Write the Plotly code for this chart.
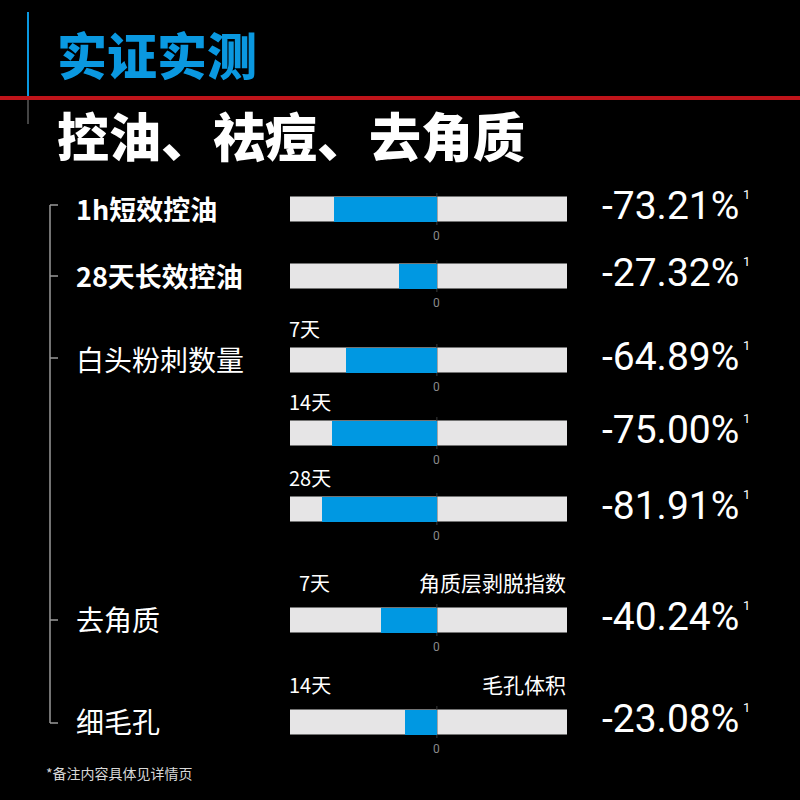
import plotly.graph_objects as go

# rows of the chart, top to bottom
row_labels = ["1h短效控油", "28天长效控油", "白头粉刺数量", "", "", "去角质", "细毛孔"]
row_bold = [True, True, False, False, False, False, False]
sub_left = ["", "", "7天", "14天", "28天", "7天", "14天"]
sub_right = ["", "", "", "", "", "角质层剥脱指数", "毛孔体积"]
values = [-73.21, -27.32, -64.89, -75.00, -81.91, -40.24, -23.08]
value_text = ["-73.21%", "-27.32%", "-64.89%", "-75.00%", "-81.91%", "-40.24%", "-23.08%"]

# vertical layout, in page pixels (y axis runs 0..800 top-down)
row_y = [209, 276, 360, 433, 509, 620, 722]

CJK = "Noto Sans CJK SC"
NUM = "Roboto"
BLUE = "#0a98e0"
BAR_BLUE = "#0098e2"
GRAY = "#e6e5e6"

fig = go.Figure()

fig.add_trace(go.Bar(
    x=values, y=row_y, orientation="h", width=25,
    marker=dict(color=BAR_BLUE, line=dict(width=0)),
    hoverinfo="skip", showlegend=False,
))

shapes = []
annotations = []

for i, yc in enumerate(row_y):
    # light gray track behind each bar
    shapes.append(dict(type="rect", xref="x domain", yref="y", x0=0, x1=1,
                       y0=yc - 12.5, y1=yc + 12.5, fillcolor=GRAY,
                       line=dict(width=0), layer="below"))
    # zero line
    shapes.append(dict(type="line", xref="x", yref="y", x0=0, x1=0,
                       y0=yc - 16, y1=yc + 16, line=dict(color="#3a3a3a", width=1),
                       layer="below"))
    annotations.append(dict(x=0, y=yc + 27, xref="x", yref="y", text="0",
                            showarrow=False, font=dict(family=NUM, size=12, color="#8a8a8a")))
    # percentage on the right, with the footnote mark
    annotations.append(dict(x=741 / 800, y=yc - 3, xref="paper", yref="y",
                            text=value_text[i], showarrow=False, xanchor="right",
                            font=dict(family=NUM, size=39, color="white")))
    annotations.append(dict(x=741 / 800, y=yc - 15, xref="paper", yref="y",
                            text="1", showarrow=False, xanchor="left",
                            font=dict(family=NUM, size=13, color="white")))
    if row_labels[i]:
        annotations.append(dict(x=74 / 800, y=yc - 1, xref="paper", yref="y",
                                text=row_labels[i], showarrow=False, xanchor="left",
                                font=dict(family=CJK, size=27 if row_bold[i] else 28,
                                          color="white",
                                          weight="bold" if row_bold[i] else "normal")))
    if sub_left[i]:
        off = 38 if sub_right[i] else 32
        xl = 297 if sub_left[i] == "7天" and sub_right[i] else 287
        annotations.append(dict(x=xl / 800, y=yc - off, xref="paper", yref="y",
                                text=sub_left[i], showarrow=False, xanchor="left",
                                font=dict(family=CJK, size=20, color="white")))
    if sub_right[i]:
        annotations.append(dict(x=568 / 800, y=yc - 38, xref="paper", yref="y",
                                text=sub_right[i], showarrow=False, xanchor="right",
                                font=dict(family=CJK, size=21, color="white")))

# bracket on the left
bracket_ticks = [row_y[0] - 4, row_y[1], 358, row_y[5], row_y[6] + 1]
shapes.append(dict(type="line", xref="paper", yref="y", x0=50 / 800, x1=50 / 800,
                   y0=bracket_ticks[0], y1=bracket_ticks[-1],
                   line=dict(color="#9a9a9a", width=1.5)))
for ty in bracket_ticks:
    shapes.append(dict(type="line", xref="paper", yref="y", x0=50 / 800, x1=58 / 800,
                       y0=ty, y1=ty, line=dict(color="#9a9a9a", width=1.5)))

# header decoration
shapes.append(dict(type="line", xref="paper", yref="y", x0=28 / 800, x1=28 / 800,
                   y0=12, y1=96, line=dict(color=BLUE, width=2)))
shapes.append(dict(type="line", xref="paper", yref="y", x0=28 / 800, x1=28 / 800,
                   y0=100, y1=124, line=dict(color="#444444", width=2)))
shapes.append(dict(type="line", xref="paper", yref="y", x0=0, x1=1,
                   y0=98, y1=98, line=dict(color="#c0141a", width=4)))

annotations.append(dict(x=55 / 800, y=53, xref="paper", yref="y", text="实证实测",
                        showarrow=False, xanchor="left",
                        font=dict(family=CJK, size=50, color=BLUE, weight=900)))
annotations.append(dict(x=55 / 800, y=134, xref="paper", yref="y", text="控油、祛痘、去角质",
                        showarrow=False, xanchor="left",
                        font=dict(family=CJK, size=52, color="white", weight=900)))
annotations.append(dict(x=44 / 800, y=773, xref="paper", yref="y", text="*备注内容具体见详情页",
                        showarrow=False, xanchor="left",
                        font=dict(family=CJK, size=14, color="#d8d8d8")))

fig.update_layout(
    width=800, height=800,
    margin=dict(l=0, r=0, t=0, b=0),
    paper_bgcolor="black", plot_bgcolor="black",
    xaxis=dict(domain=[290 / 800, 567 / 800], range=[-105, 93], visible=False,
               fixedrange=True),
    yaxis=dict(range=[800, 0], visible=False, fixedrange=True),
    shapes=shapes, annotations=annotations,
    bargap=0,
)

fig.write_html("out.html", config={"displayModeBar": False},
               post_script="document.body.style.margin = '0';")
